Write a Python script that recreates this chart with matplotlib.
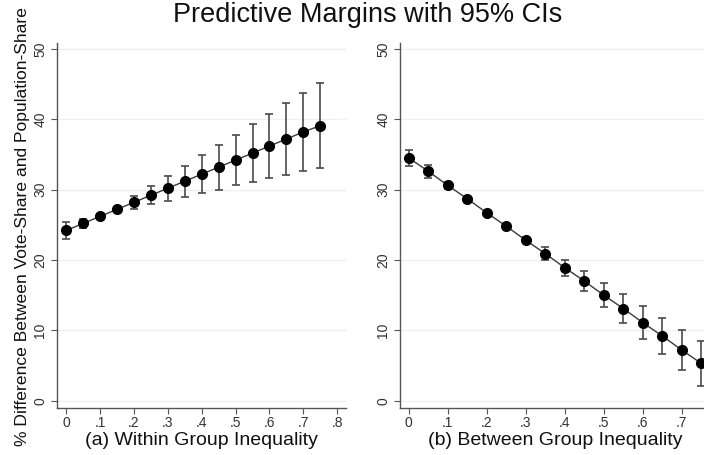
import matplotlib
matplotlib.use("Agg")
import matplotlib.pyplot as plt
import numpy as np

plt.rcParams['font.family'] = ['Liberation Sans', 'DejaVu Sans']

x_vals = [0, .05, .1, .15, .2, .25, .3, .35, .4, .45, .5, .55, .6, .65, .7, .75]
within_margin = [24.2, 25.2, 26.2, 27.2, 28.2, 29.2, 30.2, 31.2, 32.2, 33.2, 34.2, 35.2, 36.2, 37.2, 38.2, 39.1]
within_ci = [1.15, 0.6, 0.4, 0.4, 0.9, 1.3, 1.75, 2.2, 2.7, 3.2, 3.6, 4.1, 4.6, 5.1, 5.6, 6.05]
between_margin = [34.5, 32.6, 30.6, 28.7, 26.7, 24.8, 22.8, 20.9, 18.9, 17.0, 15.0, 13.1, 11.1, 9.2, 7.2, 5.3]
between_ci = [1.2, 0.9, 0.5, 0.3, 0.3, 0.3, 0.4, 0.9, 1.15, 1.4, 1.75, 2.0, 2.3, 2.6, 2.9, 3.2]

x_ticks_a = [0, .1, .2, .3, .4, .5, .6, .7, .8]
x_ticklabels_a = ['0', '.1', '.2', '.3', '.4', '.5', '.6', '.7', '.8']
x_ticks_b = [0, .1, .2, .3, .4, .5, .6, .7]
x_ticklabels_b = ['0', '.1', '.2', '.3', '.4', '.5', '.6', '.7']
y_ticks = [0, 10, 20, 30, 40, 50]

fig = plt.figure(figsize=(7.04, 4.55), dpi=100)
ax1 = fig.add_axes([0.081, 0.1033, 0.4105, 0.803])
ax2 = fig.add_axes([0.568, 0.1033, 0.4403, 0.803])

def style(ax, y, ci, xlabel, xt, xtl, xlim):
    ax.set_xlim(*xlim)
    ax.set_ylim(-1.04, 50.9)
    for yt in y_ticks:
        ax.axhline(yt, color='#eaf2f3', lw=1.0, zorder=0)
    ax.errorbar(x_vals, y, yerr=ci, fmt='none', ecolor='#4a4a4a', elinewidth=1.2,
                capsize=3, capthick=1.2, zorder=2, clip_on=False)
    ax.plot(x_vals, y, color='#3a3a3a', lw=1.0, zorder=3, clip_on=False)
    ax.plot(x_vals, y, 'o', color='black', ms=7, zorder=4, clip_on=False)
    ax.set_xticks(xt)
    ax.set_xticklabels(xtl)
    ax.set_yticks(y_ticks)
    ax.set_yticklabels([str(v) for v in y_ticks], rotation=90, va='center')
    for s in ['top', 'right']:
        ax.spines[s].set_visible(False)
    for s in ['left', 'bottom']:
        ax.spines[s].set_color('#555555')
        ax.spines[s].set_linewidth(1.0)
    ax.tick_params(axis='both', colors='#555555', labelcolor='#333333', labelsize=10,
                   length=4, width=0.8, direction='out')
    ax.tick_params(axis='y', pad=3)
    ax.tick_params(axis='x', pad=2)
    ax.set_xlabel(xlabel, fontsize=14, color='#111111', labelpad=1.5)

style(ax1, within_margin, within_ci, '(a) Within Group Inequality', x_ticks_a, x_ticklabels_a,
      (-0.027, 0.826))
style(ax2, between_margin, between_ci, '(b) Between Group Inequality', x_ticks_b, x_ticklabels_b,
      (-0.023, 0.772))
ax1.set_ylabel('% Difference Between Vote-Share and Population-Share', fontsize=12.6,
               color='#111111')
ax1.yaxis.set_label_coords(-0.121, 0.498)
ax1.yaxis.label.set_va('center')

fig.text(0.522, 0.967, 'Predictive Margins with 95% CIs', ha='center', va='center',
         fontsize=19.5, color='#111111')

fig.savefig('out.png', dpi=100)
